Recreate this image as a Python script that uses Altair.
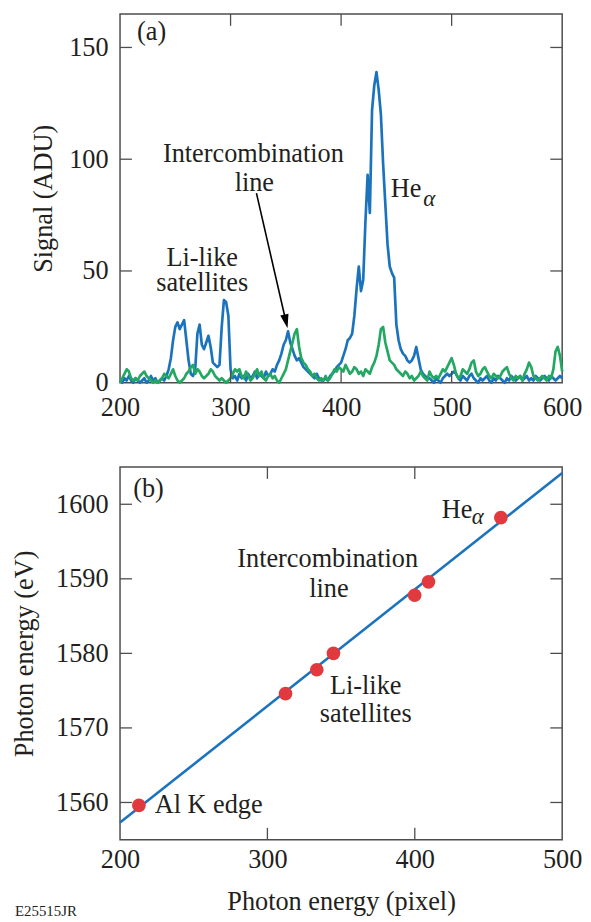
import altair as alt
import pandas as pd

FONT = "Liberation Serif"
TXT = "#231f20"
BLUE = "#1a73bc"
GREEN = "#22a862"
RED = "#e03a3e"
FRAME = "#4d4d4d"

# ---------------- panel (a) data ----------------
pixels = list(range(200, 601, 2))
blue_signal = [
    1, 0, 2, 1, 3, 1, 0, 2, 1, 0,
    1, 2, 0, 1, 3, 1, 2, 0, 1, 2,
    1, 3, 6, 11, 19, 25, 27, 24, 26, 28,
    19, 10, 4, 3, 6, 22, 26, 17, 15, 18,
    21, 16, 9, 8, 7, 8, 25, 37, 36, 30,
    6, 2, 3, 1, 4, 2, 3, 1, 4, 2,
    3, 5, 2, 4, 3, 2, 5, 3, 4, 6,
    5, 8, 10, 13, 17, 19, 23, 18, 15, 12,
    10, 11, 9, 7, 6, 5, 4, 3, 2, 4,
    2, 1, 1, 2, 1, 3, 4, 5, 7, 8,
    9, 12, 15, 19, 20, 22, 30, 42, 52, 41,
    46, 72, 93, 76, 122, 133, 139, 131, 120, 98,
    80, 62, 52, 49, 47, 26, 19, 15, 13, 12,
    10, 9, 10, 12, 16, 11, 6, 4, 3, 2,
    2, 1, 0, 2, 1, 0, 2, 3, 4, 3,
    4, 5, 4, 2, 1, 3, 2, 1, 3, 4,
    2, 1, 0, 2, 1, 2, 3, 1, 0, 2,
    1, 3, 2, 1, 0, 2, 1, 3, 2, 1,
    2, 3, 1, 2, 3, 1, 2, 1, 3, 2,
    1, 2, 3, 2, 1, 3, 2, 1, 2, 3,
    2,
]
green_signal = [
    0, 2, 4, 6, 5, 2, 1, 2, 1, 3,
    4, 5, 3, 2, 1, 0, 1, 0, 1, 2,
    4, 3, 2, 4, 6, 3, 1, 0, 1, 2,
    4, 5, 7, 8, 4, 6, 5, 3, 2, 3,
    4, 6, 5, 3, 2, 1, 2, 1, 0, 1,
    2, 4, 6, 5, 6, 3, 2, 5, 3, 1,
    2, 4, 6, 3, 5, 2, 1, 3, 4, 2,
    3, 1, 0, 2, 4, 6, 10, 14, 18, 22,
    24, 16, 11, 9, 8, 6, 5, 3, 4, 2,
    1, 2, 1, 3, 1, 2, 4, 6, 5, 7,
    6, 5, 8, 6, 4, 5, 7, 6, 4, 5,
    3, 6, 5, 4, 7, 9, 12, 17, 24, 25,
    18, 14, 10, 9, 8, 6, 5, 4, 3, 5,
    4, 2, 3, 1, 2, 3, 5, 3, 2, 1,
    5, 3, 2, 3, 2, 4, 6, 5, 7, 9,
    11, 8, 4, 2, 3, 6, 5, 4, 6, 9,
    10, 5, 3, 4, 6, 7, 5, 3, 2, 4,
    3, 2, 3, 5, 6, 7, 4, 2, 1, 3,
    2, 3, 1, 4, 6, 9, 7, 3, 2, 1,
    2, 3, 2, 1, 3, 2, 6, 14, 16, 12,
    5,
]
a_xticks = [300, 400, 500]
a_yticks = [50, 100, 150]
a_xlabels = [200, 300, 400, 500, 600]
a_ylabels = [0, 50, 100, 150]

# ---------------- panel (b) data ----------------
fit_px = [200, 500]
fit_ev = [1557.3, 1604.2]
pt_px = [212.8, 312.3, 333.5, 344.8, 399.9, 409.3, 458.4]
pt_ev = [1559.6, 1574.6, 1577.8, 1580.0, 1587.8, 1589.6, 1598.2]
b_xticks = [300, 400]
b_yticks = [1560, 1570, 1580, 1590, 1600]
b_xlabels = [200, 300, 400, 500]

W1, H1 = 446, 372
W2, H2 = 446, 376
TL = 12
FS = 26.5

def txt(df, align="left", size=FS, style="normal", enc=None):
    return alt.Chart(df).mark_text(align=align, baseline="middle", font=FONT,
                                   fontSize=size, fontStyle=style, color=TXT).encode(**enc)

# ================= panel (a) =================
xs_a = alt.Scale(domain=[200, 600], nice=False, zero=False)
ys_a = alt.Scale(domain=[0, 165], nice=False)
xax_a = alt.Axis(values=a_xlabels, ticks=False, domain=False, grid=False, labelFont=FONT,
                 labelFontSize=FS, labelColor=TXT, labelPadding=12, title=None, labelFlush=False,
                 format="d")
yax_a = alt.Axis(values=a_ylabels, ticks=False, domain=False, grid=False, labelFont=FONT,
                 labelFontSize=FS, labelColor=TXT, labelPadding=12, title="Signal (ADU)",
                 titleFont=FONT, titleFontSize=FS, titleFontWeight="normal", titleColor=TXT,
                 titlePadding=11, format="d")
XA = lambda: alt.X("px:Q", scale=xs_a, axis=xax_a)
YA = lambda: alt.Y("sig:Q", scale=ys_a, axis=yax_a)

spec = pd.DataFrame({
    "px": pixels * 2,
    "sig": blue_signal + green_signal,
    "series": ["blue"] * len(pixels) + ["green"] * len(pixels),
})
lines_a = alt.Chart(spec).mark_line(strokeWidth=2.7, strokeJoin="round").encode(
    x=XA(), y=YA(),
    color=alt.Color("series:N", scale=alt.Scale(domain=["blue", "green"], range=[BLUE, GREEN]), legend=None),
    order=alt.Order("px:Q"),
    detail="series:N",
)

axt = pd.DataFrame({"px": a_xticks})
ayt = pd.DataFrame({"sig": a_yticks})
ticks_a = [
    alt.Chart(axt).mark_rule(color=FRAME, strokeWidth=1.3).encode(x=XA(), y=alt.value(H1), y2=alt.value(H1 - TL)),
    alt.Chart(axt).mark_rule(color=FRAME, strokeWidth=1.3).encode(x=XA(), y=alt.value(0), y2=alt.value(TL)),
    alt.Chart(ayt).mark_rule(color=FRAME, strokeWidth=1.3).encode(y=YA(), x=alt.value(0), x2=alt.value(TL)),
    alt.Chart(ayt).mark_rule(color=FRAME, strokeWidth=1.3).encode(y=YA(), x=alt.value(W1), x2=alt.value(W1 - TL)),
]

a_left = pd.DataFrame({"px": [215.4, 444.9], "sig": [156.7, 86.5], "label": ["(a)", "He"]})
a_center = pd.DataFrame({"px": [320.6, 321.5, 274.4, 274.4], "sig": [102.5, 89.2, 55.9, 44.4],
                         "label": ["Intercombination", "line", "Li-like", "satellites"]})
a_alpha = pd.DataFrame({"px": [474.3], "sig": [82.0], "label": ["α"]})
texts_a = [
    txt(a_left, "left", enc=dict(x=XA(), y=YA(), text="label:N")),
    txt(a_center, "center", enc=dict(x=XA(), y=YA(), text="label:N")),
    txt(a_alpha, "left", 23, "italic", enc=dict(x=XA(), y=YA(), text="label:N")),
]

arrow_line = pd.DataFrame({"px": [323.4], "sig": [84.8], "px2": [350.1], "sig2": [27.4]})
arrow_head = pd.DataFrame({"px": [350.1], "sig": [27.4]})
arrow_a = [
    alt.Chart(arrow_line).mark_rule(color="black", strokeWidth=1.6).encode(
        x=XA(), y=YA(), x2="px2:Q", y2="sig2:Q"),
    alt.Chart(arrow_head).mark_point(shape="M0,1L-0.6,-1L0.6,-1Z", filled=True, opacity=1,
                                     color="black", size=200, angle=347).encode(x=XA(), y=YA()),
]

panel_a = alt.layer(lines_a, *ticks_a, *texts_a, *arrow_a).properties(width=W1, height=H1)

# ================= panel (b) =================
xs_b = alt.Scale(domain=[200, 500], nice=False, zero=False)
ys_b = alt.Scale(domain=[1555, 1605], nice=False, zero=False)
xax_b = alt.Axis(values=b_xlabels, ticks=False, domain=False, grid=False, labelFont=FONT,
                 labelFontSize=FS, labelColor=TXT, labelPadding=7, labelFlush=False, format="d",
                 title="Photon energy (pixel)", titleFont=FONT, titleFontSize=FS,
                 titleFontWeight="normal", titleColor=TXT, titlePadding=16)
yax_b = alt.Axis(values=b_yticks, ticks=False, domain=False, grid=False, labelFont=FONT,
                 labelFontSize=FS, labelColor=TXT, labelPadding=12, format="d",
                 title="Photon energy (eV)", titleFont=FONT, titleFontSize=FS,
                 titleFontWeight="normal", titleColor=TXT, titlePadding=17)
XB = lambda: alt.X("px:Q", scale=xs_b, axis=xax_b)
YB = lambda: alt.Y("ev:Q", scale=ys_b, axis=yax_b)

fit = pd.DataFrame({"px": fit_px, "ev": fit_ev})
pts = pd.DataFrame({"px": pt_px, "ev": pt_ev})
fit_line = alt.Chart(fit).mark_line(color=BLUE, strokeWidth=2.6).encode(x=XB(), y=YB())
dots = alt.Chart(pts).mark_circle(color=RED, size=190, opacity=1).encode(x=XB(), y=YB())

bxt = pd.DataFrame({"px": b_xticks})
byt = pd.DataFrame({"ev": b_yticks})
ticks_b = [
    alt.Chart(bxt).mark_rule(color=FRAME, strokeWidth=1.3).encode(x=XB(), y=alt.value(H2), y2=alt.value(H2 - TL)),
    alt.Chart(bxt).mark_rule(color=FRAME, strokeWidth=1.3).encode(x=XB(), y=alt.value(0), y2=alt.value(TL)),
    alt.Chart(byt).mark_rule(color=FRAME, strokeWidth=1.3).encode(y=YB(), x=alt.value(0), x2=alt.value(TL)),
    alt.Chart(byt).mark_rule(color=FRAME, strokeWidth=1.3).encode(y=YB(), x=alt.value(W2), x2=alt.value(W2 - TL)),
]

b_left = pd.DataFrame({"px": [208.9, 418.3, 223.5], "ev": [1602.1, 1599.2, 1559.6],
                       "label": ["(b)", "He", "Al K edge"]})
b_center = pd.DataFrame({"px": [340.9, 341.7, 366.7, 366.7], "ev": [1592.6, 1588.6, 1575.6, 1571.8],
                         "label": ["Intercombination", "line", "Li-like", "satellites"]})
b_alpha = pd.DataFrame({"px": [438.7], "ev": [1598.3], "label": ["α"]})
b_code = pd.DataFrame({"px": [128.7], "ev": [1545.4], "label": ["E25515JR"]})
texts_b = [
    txt(b_left, "left", enc=dict(x=XB(), y=YB(), text="label:N")),
    txt(b_center, "center", enc=dict(x=XB(), y=YB(), text="label:N")),
    txt(b_alpha, "left", 23, "italic", enc=dict(x=XB(), y=YB(), text="label:N")),
    txt(b_code, "left", 15, enc=dict(x=XB(), y=YB(), text="label:N")),
]

panel_b = alt.layer(fit_line, dots, *ticks_b, *texts_b).properties(width=W2, height=H2)

chart = alt.vconcat(panel_a, panel_b, spacing=43).properties(
    padding={"left": 3, "top": 0, "right": 0, "bottom": 0}
).configure_view(stroke=FRAME, strokeWidth=1.5)

chart.save("out.html", embed_options={"renderer": "svg", "actions": False})
